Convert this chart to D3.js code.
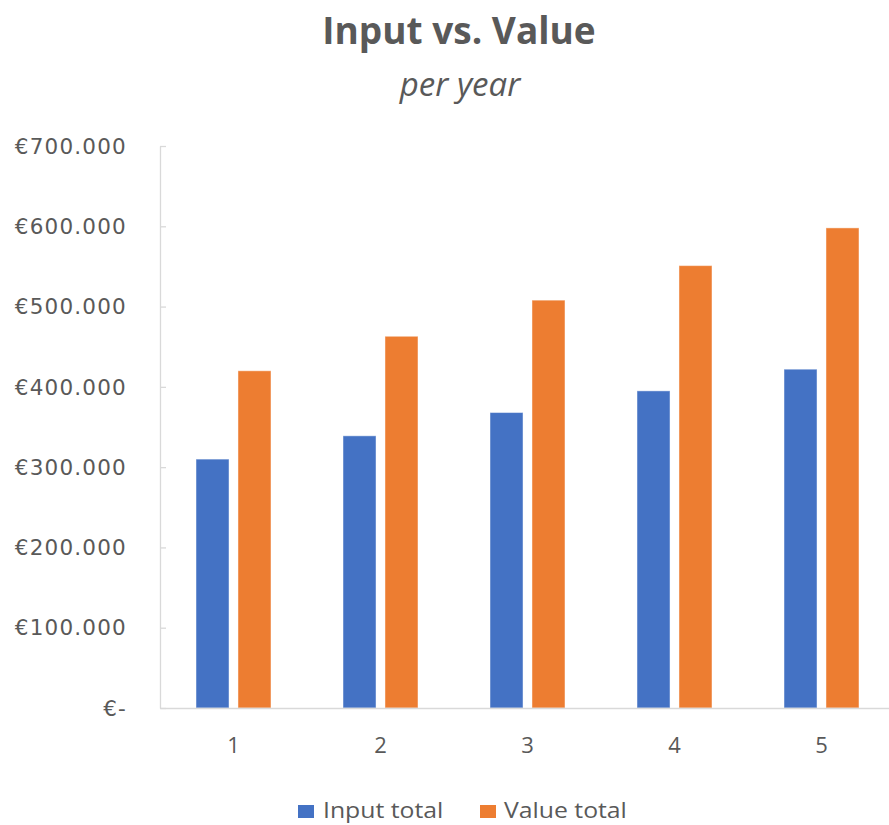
<!DOCTYPE html>
<html>
<head>
<meta charset="utf-8">
<script src="https://cdn.jsdelivr.net/npm/d3@7"></script>
<style>
  html, body { margin: 0; padding: 0; background: #fff; }
  svg { display: block; }
</style>
</head>
<body>
<svg id="chart" width="889" height="825"></svg>
<script>
// Yearly totals
const years = ["1", "2", "3", "4", "5"];
const seriesNames = ["Input total", "Value total"];
const inputTotal = [310000, 339000, 368000, 395000, 422000];
const valueTotal = [420000, 463000, 508000, 551000, 598000];
const yTicks = [0, 100000, 200000, 300000, 400000, 500000, 600000, 700000];

const colors = ["#4472C4", "#ED7D31"];
const textColor = "#595959";
const axisColor = "#D9D9D9";

const svg = d3.select("#chart");

const plot = { left: 160, right: 895, top: 146, bottom: 708 };

const x0 = d3.scaleBand()
  .domain(years)
  .range([plot.left, plot.right])
  .paddingInner(0.49)
  .paddingOuter(0.245);

const x1 = d3.scaleBand()
  .domain(seriesNames)
  .range([0, x0.bandwidth()])
  .paddingInner(0.214);

const y = d3.scaleLinear()
  .domain([0, 700000])
  .range([plot.bottom, plot.top]);

const color = d3.scaleOrdinal().domain(seriesNames).range(colors);

const rows = years.map((yr, i) => ({ year: yr, values: [
  { name: seriesNames[0], value: inputTotal[i] },
  { name: seriesNames[1], value: valueTotal[i] }
]}));

// Title and subtitle
svg.append("text")
  .attr("x", 459).attr("y", 44)
  .attr("text-anchor", "middle")
  .attr("font-family", "'Open Sans', sans-serif")
  .attr("font-weight", 700)
  .attr("font-size", 37)
  .attr("fill", textColor)
  .text("Input vs. Value");

svg.append("text")
  .attr("x", 460).attr("y", 96)
  .attr("text-anchor", "middle")
  .attr("font-family", "'Open Sans', sans-serif")
  .attr("font-style", "italic")
  .attr("font-size", 33)
  .attr("fill", textColor)
  .text("per year");

// Bars
const groups = svg.append("g").selectAll("g")
  .data(rows)
  .join("g")
  .attr("transform", d => `translate(${x0(d.year)},0)`);

groups.selectAll("rect")
  .data(d => d.values)
  .join("rect")
  .attr("x", d => x1(d.name))
  .attr("y", d => y(d.value))
  .attr("width", x1.bandwidth())
  .attr("height", d => y(0) - y(d.value))
  .attr("fill", d => color(d.name))
  .attr("stroke", "#ffffff")
  .attr("stroke-opacity", 0.45)
  .attr("stroke-width", 1);

// Y axis: line with short inward ticks, labels on the left
const yAxis = d3.axisRight(y)
  .tickValues(yTicks)
  .tickSize(6)
  .tickSizeOuter(0)
  .tickFormat("");

const gy = svg.append("g")
  .attr("transform", `translate(${plot.left},0)`)
  .call(yAxis);
gy.selectAll("path, line").attr("stroke", axisColor).attr("stroke-width", 1.3);

const fmt = v => v === 0 ? "€-" : "€" + d3.format(",")(v).replace(/,/g, ".");

svg.append("g").selectAll("text")
  .data(yTicks)
  .join("text")
  .attr("x", 127)
  .attr("y", d => y(d))
  .attr("dy", "0.36em")
  .attr("text-anchor", "end")
  .attr("font-family", "'DejaVu Sans', sans-serif")
  .attr("font-size", 21.5)
  .attr("letter-spacing", 1.2)
  .attr("fill", textColor)
  .text(fmt);

// X axis baseline and category labels
const xAxis = d3.axisBottom(x0).tickSize(0).tickSizeOuter(0).tickPadding(0).tickFormat("");
const gx = svg.append("g")
  .attr("transform", `translate(0,${plot.bottom})`)
  .call(xAxis);
gx.select("path").attr("stroke", axisColor).attr("stroke-width", 1.3);

svg.append("g").selectAll("text")
  .data(years)
  .join("text")
  .attr("x", d => x0(d) + x0.bandwidth() / 2)
  .attr("y", 753)
  .attr("text-anchor", "middle")
  .attr("font-family", "'Open Sans', sans-serif")
  .attr("font-size", 22)
  .attr("fill", textColor)
  .text(d => d);

// Legend (text slightly widened horizontally)
const legendItems = [
  { name: seriesNames[0], sx: 298, tx: 323 },
  { name: seriesNames[1], sx: 480, tx: 504 }
];
const lg = svg.append("g");
lg.selectAll("rect")
  .data(legendItems)
  .join("rect")
  .attr("x", d => d.sx)
  .attr("y", 805)
  .attr("width", 16)
  .attr("height", 13)
  .attr("fill", d => color(d.name));
lg.selectAll("text")
  .data(legendItems)
  .join("text")
  .attr("transform", d => `translate(${d.tx},818) scale(1.18,1)`)
  .attr("font-family", "'Open Sans', sans-serif")
  .attr("font-size", 21)
  .attr("fill", textColor)
  .text(d => d.name);
</script>
</body>
</html>
